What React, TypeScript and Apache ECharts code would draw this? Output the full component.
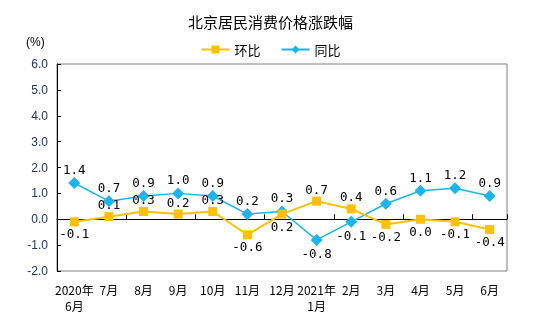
import React, { useEffect, useRef } from "react";
import * as echarts from "echarts";

const categories = ["2020年\n6月", "7月", "8月", "9月", "10月", "11月", "12月", "2021年\n1月", "2月", "3月", "4月", "5月", "6月"];
const momValues = [-0.1, 0.1, 0.3, 0.2, 0.3, -0.6, 0.2, 0.7, 0.4, -0.2, 0.0, -0.1, -0.4];
const yoyValues = [1.4, 0.7, 0.9, 1.0, 0.9, 0.2, 0.3, -0.8, -0.1, 0.6, 1.1, 1.2, 0.9];
const momLabelPos = ["bottom", "top", "top", "top", "top", "bottom", "bottom", "top", "top", "bottom", "bottom", "bottom", "bottom"];
const yoyLabelPos = ["top", "top", "top", "top", "top", "top", "top", "bottom", "bottom", "top", "top", "top", "top"];

const labelFont = { fontFamily: "DejaVu Sans Mono", fontSize: 12.5, color: "#000" };

export default function App() {
  const ref = useRef<HTMLDivElement>(null);
  useEffect(() => {
    const chart = echarts.init(ref.current!, null, { renderer: "svg" });
    chart.setOption({
      animation: false,
      title: {
        text: "北京居民消费价格涨跌幅",
        left: "center",
        top: 9,
        textStyle: { fontFamily: "Noto Sans CJK SC", fontSize: 15, fontWeight: "normal", color: "#000" },
      },
      legend: {
        top: 38,
        left: "center",
        itemWidth: 28,
        itemHeight: 10,
        itemGap: 20,
        textStyle: { fontFamily: "Noto Sans CJK SC", fontSize: 13, color: "#000" },
        data: ["环比", "同比"],
      },
      graphic: [
        {
          type: "text",
          left: 26,
          top: 36,
          style: { text: "(%)", font: "12px Liberation Sans", fill: "#000" },
        },
      ],
      grid: {
        left: 57,
        right: 34,
        top: 64,
        bottom: 58,
        show: true,
        borderColor: "#808080",
        borderWidth: 1,
      },
      xAxis: [
        {
          type: "category",
          data: categories,
          position: "bottom",
          axisLine: { show: false, onZero: false },
          axisTick: { show: false },
          axisLabel: {
            interval: 0,
            margin: 10,
            fontFamily: "Noto Sans CJK SC",
            fontSize: 12,
            color: "#000",
            lineHeight: 16,
          },
        },
        {
          type: "category",
          data: categories,
          position: "bottom",
          axisLine: { show: true, onZero: true, lineStyle: { color: "#000", width: 1 } },
          axisTick: { show: true, inside: true, length: 5, alignWithLabel: false, lineStyle: { color: "#000" } },
          axisLabel: { show: false },
        },
      ],
      yAxis: {
        type: "value",
        min: -2,
        max: 6,
        interval: 1,
        splitLine: { show: false },
        axisLine: { show: true, lineStyle: { color: "#000" } },
        axisTick: { show: true, inside: true, length: 4, lineStyle: { color: "#000" } },
        axisLabel: {
          formatter: (v: number) => v.toFixed(1),
          fontFamily: "Liberation Sans",
          fontSize: 12,
          color: "#1f3864",
          margin: 9,
        },
      },
      series: [
        {
          name: "环比",
          type: "line",
          xAxisIndex: 0,
          data: momValues.map((v, i) => ({ value: v, label: { position: momLabelPos[i] } })),
          symbol: "rect",
          symbolSize: 9,
          lineStyle: { color: "#FFC000", width: 2 },
          itemStyle: { color: "#FFC000" },
          label: { show: true, distance: 1, formatter: (p: any) => p.value.toFixed(1), ...labelFont },
          z: 5,
        },
        {
          name: "同比",
          type: "line",
          xAxisIndex: 0,
          data: yoyValues.map((v, i) => ({ value: v, label: { position: yoyLabelPos[i] } })),
          symbol: "diamond",
          symbolSize: 12,
          lineStyle: { color: "#1CB4EC", width: 1.5 },
          itemStyle: { color: "#1CB4EC" },
          label: { show: true, distance: 1, formatter: (p: any) => p.value.toFixed(1), ...labelFont },
          z: 4,
        },
      ],
    });
    return () => chart.dispose();
  }, []);
  return <div ref={ref} style={{ position: "fixed", left: 0, top: 0, width: 541, height: 329 }} />;
}
